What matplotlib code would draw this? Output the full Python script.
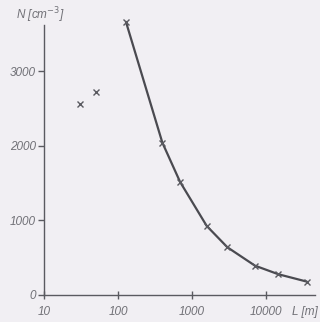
import numpy as np
import matplotlib.pyplot as plt

# measured points (L in m, N in cm^-3)
L_vals = [30.6, 50.4, 128, 397, 689, 1578, 3000, 7080, 14650, 35500]
N_vals = [2564, 2725, 3664, 2044, 1517, 926, 640, 393, 278, 179]
# the drawn curve goes through the points from 128 m on
curve_start = 2

x_ticks = [10, 100, 1000, 10000]
x_labels = ["10", "100", "1000", "10000"]
y_ticks = [0, 1000, 2000, 3000]
y_labels = ["0", "1000", "2000", "3000"]

bg = "#f1eff3"
ink = "#5a5a60"
txt = "#707076"
fam = ["Liberation Sans", "DejaVu Sans"]

fig = plt.figure(figsize=(3.2, 3.22), dpi=100, facecolor=bg)
ax = fig.add_axes([0.1375, 0.084, 0.847, 0.838])
ax.set_facecolor(bg)

ax.plot(L_vals[curve_start:], N_vals[curve_start:], color="#4a4a50", lw=1.6,
        solid_capstyle="round", zorder=2, clip_on=False)
ax.plot(L_vals, N_vals, ls="none", marker="x", ms=5, mew=1.0, color=ink,
        zorder=3, clip_on=False)

ax.set_xscale("log")
ax.set_xlim(10, 45900)
ax.set_ylim(0, 3620)

for s in ["top", "right"]:
    ax.spines[s].set_visible(False)
for s in ["left", "bottom"]:
    ax.spines[s].set_color(ink)
    ax.spines[s].set_linewidth(1.0)

ax.set_xticks(x_ticks)
ax.set_xticklabels(x_labels)
ax.minorticks_off()
ax.set_yticks(y_ticks)
ax.set_yticklabels(y_labels)
ax.tick_params(axis="x", direction="inout", length=6, width=1.0, color=ink,
               labelsize=8.5, labelcolor=txt, pad=5)
ax.tick_params(axis="y", direction="out", length=4, width=1.0, color=ink,
               labelsize=8.5, labelcolor=txt, pad=2)
for lab in ax.get_xticklabels() + ax.get_yticklabels():
    lab.set_fontstyle("italic")
    lab.set_family(fam)

ax.annotate("L [m]", xy=(1.0, 0), xycoords="axes fraction",
            xytext=(2, -8), textcoords="offset points", ha="right", va="top",
            fontsize=8.5, fontstyle="italic", color=txt, family=fam)
fig.text(0.05, 0.953, r"N [cm$^{-3}$]", ha="left", va="center",
         fontsize=8.5, fontstyle="italic", color=txt, family=fam)

fig.savefig("out.png", dpi=100, facecolor=bg)
